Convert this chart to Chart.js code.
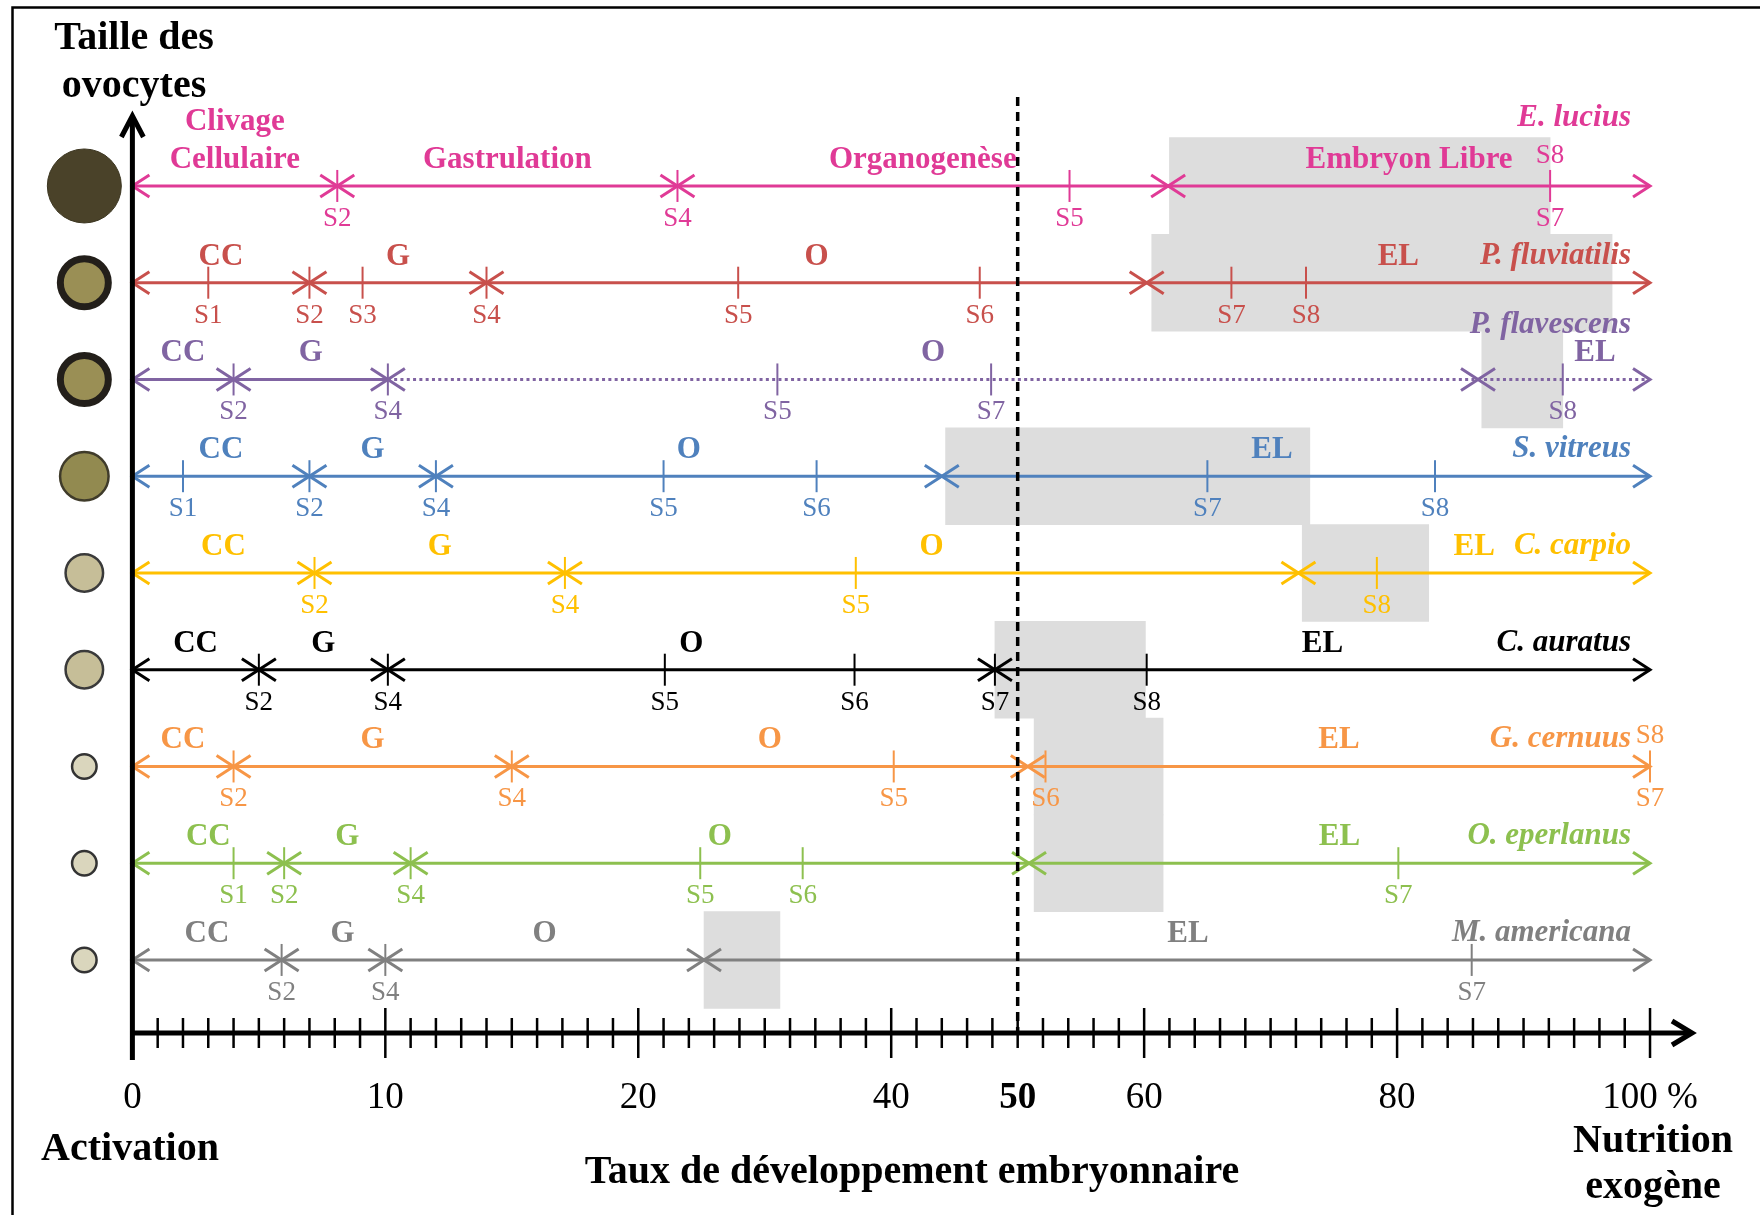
<!DOCTYPE html>
<html>
<head>
<meta charset="utf-8">
<script src="https://cdn.jsdelivr.net/npm/chart.js@4.4.1/dist/chart.umd.min.js"></script>
<style>
  body { margin: 0; background: #fff; }
  canvas { display: block; }
</style>
</head>
<body>
<canvas id="stades-chart" width="1760" height="1215"></canvas>
<script>
// valeurs, en % du développement embryonnaire
var especes = ['E. lucius', 'P. fluviatilis', 'P. flavescens', 'S. vitreus', 'C. carpio',
  'C. auratus', 'G. cernuus', 'O. eperlanus', 'M. americana'];

var phases = [
  ['Clivage\nCellulaire', 'Gastrulation', 'Organogenèse', 'Embryon Libre'],
  ['CC', 'G', 'O', 'EL'],
  ['CC', 'G', 'O', 'EL'],
  ['CC', 'G', 'O', 'EL'],
  ['CC', 'G', 'O', 'EL'],
  ['CC', 'G', 'O', 'EL'],
  ['CC', 'G', 'O', 'EL'],
  ['CC', 'G', 'O', 'EL'],
  ['CC', 'G', 'O', 'EL']
];

// limites entre phases (CC|G, G|O, O|EL)
var limites = [
  [8.1, 23.1, 61.9],
  [7.0, 14.0, 60.2],
  [4.0, 10.1, 86.4],
  [7.0, 12.0, 44.0],
  [7.2, 17.1, 72.2],
  [5.0, 10.1, 48.2],
  [4.0, 15.0, 50.8],
  [6.0, 11.0, 50.9],
  [5.9, 10.0, 25.2]
];

// stades (S7/S8 : S7 dessous, S8 dessus)
var stades = [
  ['S2', 'S4', 'S5', 'S7/S8'],
  ['S1', 'S2', 'S3', 'S4', 'S5', 'S6', 'S7', 'S8'],
  ['S2', 'S4', 'S5', 'S7', 'S8'],
  ['S1', 'S2', 'S4', 'S5', 'S6', 'S7', 'S8'],
  ['S2', 'S4', 'S5', 'S8'],
  ['S2', 'S4', 'S5', 'S6', 'S7', 'S8'],
  ['S2', 'S4', 'S5', 'S6', 'S7/S8'],
  ['S1', 'S2', 'S4', 'S5', 'S6', 'S7'],
  ['S2', 'S4', 'S7']
];
var stadesPos = [
  [8.1, 23.1, 54.1, 92.1],
  [3.0, 7.0, 9.1, 14.0, 27.9, 47.0, 66.9, 72.8],
  [4.0, 10.1, 31.0, 47.9, 93.1],
  [2.0, 7.0, 12.0, 22.0, 34.1, 65.0, 83.0],
  [7.2, 17.1, 37.2, 78.4],
  [5.0, 10.1, 22.1, 37.1, 48.2, 60.2],
  [4.0, 15.0, 40.2, 52.2, 100],
  [4.0, 6.0, 11.0, 24.9, 33.0, 80.1],
  [5.9, 10.0, 85.9]
];

// zones grisées
var zonesGrises = [
  [62.0, 92.1], [60.6, 97.0], [86.7, 93.1], [44.3, 73.1], [72.5, 82.5],
  [48.2, 60.1], [51.3, 61.5], [51.3, 61.5], [25.2, 31.2]
];

// diamètre des ovocytes dessinés (px)
var tailleOvocytes = [75, 55, 55, 51, 40, 40, 27, 27, 27];

var graduations = [0, 10, 20, 40, 50, 60, 80, 100];
var etiquettes = ['0', '10', '20', '40', '50', '60', '80', '100 %'];

// styles
var couleurs = ['#E03A96', '#C8504C', '#8064A2', '#4F81BD', '#FFC000', '#000000', '#F79646', '#8DC04F', '#808080'];
var remplissage = ['#4A4229', '#9A8F55', '#9A8F55', '#928A50', '#C6BE98', '#C6BE98', '#DAD6BD', '#DAD6BD', '#DAD6BD'];
var contour = ['#3B3520', '#231F1A', '#231F1A', '#3F3B2A', '#3A3A3A', '#3A3A3A', '#333333', '#333333', '#333333'];
var epaisseur = [1, 7, 7, 2.5, 2.5, 2.5, 2.5, 2.5, 2.5];
var hauteurNom = [60, 19, 46, 19, 19, 19, 19, 19, 19];
var pointilleDepuis = [null, null, 2, null, null, null, null, null, null];
// petits décalages horizontaux (px) de certains libellés de phase
var decalagePhase = [
  [0, 0, 0, 0], [0, 0, 0, 0], [0, 0, 0, 31], [0, 0, 0, -24], [0, 0, 0, 0],
  [0, 0, 0, 0], [0, 0, 0, 0], [0, 0, 0, 0], [0, 9, 0, 11]
];
var SERIF = '"Liberation Serif", "Times New Roman", serif';

// axe non linéaire : 0-20 % puis 20-100 % à demi-échelle
function axe(p) { return p <= 20 ? p : 20 + (p - 20) / 2; }

var datasets = [];
datasets.push({
  type: 'bar',
  indexAxis: 'y',
  order: 10,
  data: zonesGrises.map(function (z, i) { return { y: i, x: [axe(z[0]), axe(z[1])] }; }),
  backgroundColor: '#DDDDDD',
  borderWidth: 0,
  barPercentage: 1,
  categoryPercentage: 1
});

especes.forEach(function (nom, i) {
  var bornes = [0].concat(limites[i], [100]);
  datasets.push({
    type: 'scatter',
    showLine: true,
    data: bornes.map(function (p) { return { x: axe(p), y: i }; }),
    borderColor: couleurs[i],
    borderWidth: 3,
    pointRadius: 0,
    segment: {
      borderDash: function (c) {
        return pointilleDepuis[i] !== null && c.p0DataIndex >= pointilleDepuis[i] ? [3, 3.3] : undefined;
      }
    }
  });
  datasets.push({
    type: 'scatter',
    data: stadesPos[i].map(function (p) { return { x: axe(p), y: i }; }),
    pointStyle: 'line',
    pointRotation: 90,
    pointRadius: 16,
    pointBorderWidth: 2,
    pointBorderColor: couleurs[i]
  });
});

datasets.push({
  type: 'scatter',
  data: tailleOvocytes.map(function (d, i) { return { x: -1.9, y: i }; }),
  pointRadius: tailleOvocytes.map(function (d, i) { return (d - epaisseur[i]) / 2; }),
  pointBackgroundColor: remplissage,
  pointBorderColor: contour,
  pointBorderWidth: epaisseur
});

function chevron(c, x, y, dir, len, half) {
  c.beginPath();
  c.moveTo(x - dir * len, y - half);
  c.lineTo(x, y);
  c.lineTo(x - dir * len, y + half);
  c.stroke();
}

var dessin = {
  id: 'dessin',
  afterDatasetsDraw: function (chart) {
    var c = chart.ctx;
    var xs = chart.scales.x, ys = chart.scales.y;
    var X = function (p) { return xs.getPixelForValue(axe(p)); };
    var x0 = X(0), y0 = ys.bottom;
    c.save();
    c.setLineDash([]);
    c.lineJoin = 'miter';

    // cadre
    c.strokeStyle = '#000';
    c.lineWidth = 2.5;
    c.strokeRect(12.5, 7.5, chart.width + 20, chart.height + 20);

    especes.forEach(function (nom, i) {
      var y = ys.getPixelForValue(i);
      var bornes = [0].concat(limites[i], [100]);
      c.strokeStyle = couleurs[i];
      c.fillStyle = couleurs[i];
      c.lineWidth = 3;
      bornes.forEach(function (p, k) {
        var x = X(p);
        if (k > 0) chevron(c, x, y, 1, 17, 11);
        if (k < bornes.length - 1) chevron(c, x, y, -1, 17, 11);
      });

      c.textAlign = 'center';
      c.textBaseline = 'alphabetic';
      c.font = 'bold 31px ' + SERIF;
      phases[i].forEach(function (txt, k) {
        var xm = (X(bornes[k]) + X(bornes[k + 1])) / 2 + decalagePhase[i][k];
        var lignes = txt.split('\n');
        lignes.forEach(function (l, j) {
          c.fillText(l, xm, y - 18 - (lignes.length - 1 - j) * 38);
        });
      });

      c.font = '27px ' + SERIF;
      stades[i].forEach(function (s, k) {
        var x = X(stadesPos[i][k]);
        var parts = s.split('/');
        c.fillText(parts[0], x, y + 40);
        if (parts[1]) c.fillText(parts[1], x, y - 23);
      });

      c.font = 'italic bold 31px ' + SERIF;
      c.textAlign = 'right';
      c.fillText(nom, X(100) - 19, y - hauteurNom[i]);
    });

    // ligne pointillée à 50 %
    c.strokeStyle = '#000';
    c.lineWidth = 3.5;
    c.setLineDash([9, 6]);
    c.beginPath();
    c.moveTo(X(50), 97);
    c.lineTo(X(50), y0);
    c.stroke();
    c.setLineDash([]);

    // axes
    c.lineWidth = 5;
    c.beginPath();
    c.moveTo(x0, y0 + 27);
    c.lineTo(x0, 118);
    c.moveTo(x0, y0);
    c.lineTo(X(100) + 40, y0);
    c.stroke();
    c.beginPath();
    c.moveTo(x0 - 11, 137);
    c.lineTo(x0, 116);
    c.lineTo(x0 + 11, 137);
    c.stroke();
    chevron(c, X(100) + 42, y0, 1, 20, 12);

    c.lineWidth = 2.5;
    xs.ticks.forEach(function (t) {
      var x = xs.getPixelForValue(t.value);
      var h = t.value % 10 === 0 ? 25 : 15;
      c.beginPath();
      c.moveTo(x, y0 - h);
      c.lineTo(x, y0 + h);
      c.stroke();
    });

    // titres
    c.fillStyle = '#000';
    c.font = 'bold 40px ' + SERIF;
    c.textAlign = 'center';
    c.fillText('Taille des', 134, 49);
    c.fillText('ovocytes', 134, 97);
    c.fillText('Activation', 130, 1160);
    c.fillText('Taux de développement embryonnaire', 912, 1183);
    c.fillText('Nutrition', 1653, 1152);
    c.fillText('exogène', 1653, 1198);
    c.restore();
  }
};

var ctx = document.getElementById('stades-chart').getContext('2d');
var myChart = new Chart(ctx, {
  type: 'scatter',
  data: { datasets: datasets },
  options: {
    responsive: false,
    animation: false,
    events: [],
    layout: { padding: 0, autoPadding: false },
    scales: {
      x: {
        type: 'linear',
        min: -5.234,
        max: 64.348,
        offset: false,
        beginAtZero: false,
        grid: { display: false, offset: false },
        border: { display: false },
        afterBuildTicks: function (s) {
          var t = [];
          for (var v = 0; v <= axe(100); v++) t.push({ value: v });
          s.ticks = t;
        },
        afterFit: function (s) { s.height = 182; },
        ticks: {
          autoSkip: false,
          maxRotation: 0,
          minRotation: 0,
          padding: 35,
          color: '#000',
          callback: function (v) {
            for (var k = 0; k < graduations.length; k++) {
              if (Math.abs(axe(graduations[k]) - v) < 1e-6) return etiquettes[k];
            }
            return '';
          },
          font: function (c) {
            var gras = c.tick && Math.abs(c.tick.value - axe(50)) < 1e-6;
            return { family: SERIF, size: 37, weight: gras ? 'bold' : 'normal' };
          }
        }
      },
      y: {
        type: 'linear',
        reverse: true,
        min: -1.922,
        max: 8.755,
        offset: false,
        grid: { offset: false },
        display: false,
        afterBuildTicks: function (s) {
          s.ticks = especes.map(function (n, i) { return { value: i }; });
        }
      }
    },
    plugins: {
      legend: { display: false },
      tooltip: { enabled: false }
    }
  },
  plugins: [dessin]
});
</script>
</body>
</html>
